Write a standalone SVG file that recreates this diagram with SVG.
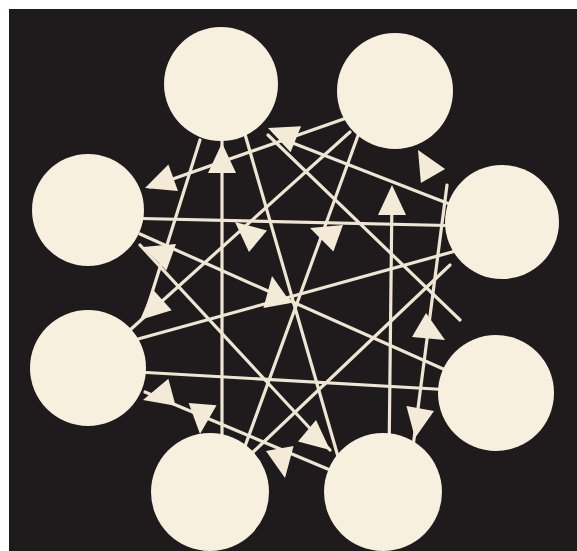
<svg xmlns="http://www.w3.org/2000/svg" xmlns:xlink="http://www.w3.org/1999/xlink" width="577" height="551" viewBox="0 0 577 551">
<style>
.bg{fill:#1f1b1c}
.node{fill:#f8f0df}
.edge{stroke:#eee5d3;stroke-width:3.2;fill:none;stroke-linecap:round}
.head{fill:#f3ead8}
</style>
<defs>
<path id="ah" d="M0,0 L-30,-14 L-30,14 Z"/>
</defs>
<rect x="0" y="0" width="577" height="551" fill="#ffffff"/>
<rect class="bg" x="9" y="9" width="568" height="542"/>
<g id="edges">
<line class="edge" x1="120" y1="218" x2="470" y2="226"/>
<line class="edge" x1="120" y1="371" x2="470" y2="391"/>
<line class="edge" x1="222" y1="120" x2="222" y2="460"/>
<line class="edge" x1="392" y1="195" x2="389" y2="460"/>
<line class="edge" x1="238" y1="110" x2="339" y2="460"/>
<line class="edge" x1="120" y1="344" x2="470" y2="247"/>
<line class="edge" x1="268" y1="135" x2="460" y2="320"/>
<line class="edge" x1="470" y1="212" x2="285" y2="140"/>
<line class="edge" x1="360" y1="130" x2="240" y2="460"/>
<line class="edge" x1="350" y1="132" x2="130" y2="330"/>
<line class="edge" x1="355" y1="115" x2="150" y2="187"/>
<line class="edge" x1="140" y1="245" x2="330" y2="450"/>
<line class="edge" x1="140" y1="234" x2="450" y2="372"/>
<line class="edge" x1="447" y1="185" x2="410" y2="470"/>
<line class="edge" x1="200" y1="140" x2="145" y2="315"/>
<line class="edge" x1="145" y1="392" x2="330" y2="470"/>
<line class="edge" x1="250" y1="455" x2="450" y2="265"/>
</g>
<g id="arrowheads" class="head">
<use xlink:href="#ah" transform="translate(268,128) rotate(202)"/>
<use xlink:href="#ah" transform="translate(222,143) rotate(-90)"/>
<use xlink:href="#ah" transform="translate(145,188) rotate(160)"/>
<use xlink:href="#ah" transform="translate(143,247) rotate(200)"/>
<use xlink:href="#ah" transform="translate(140,320) rotate(138)"/>
<use xlink:href="#ah" transform="translate(143,400) rotate(165)"/>
<use xlink:href="#ah" transform="translate(200,434) rotate(95)"/>
<use xlink:href="#ah" transform="translate(285,478) rotate(80)"/>
<use xlink:href="#ah" transform="translate(330,450) rotate(40)"/>
<use xlink:href="#ah" transform="translate(415,438) rotate(100)"/>
<use xlink:href="#ah" transform="translate(445,340) rotate(30)"/>
<use xlink:href="#ah" transform="translate(418,150) rotate(-120)"/>
<use xlink:href="#ah" transform="translate(392,185) rotate(-90)"/>
<use xlink:href="#ah" transform="translate(235,222) rotate(-140)"/>
<use xlink:href="#ah" transform="translate(310,228) rotate(200)"/>
<use xlink:href="#ah" transform="translate(272,276) rotate(-100)"/>
</g>
<g id="node-a"><circle class="node" cx="221" cy="84" r="57"/></g>
<g id="node-b"><circle class="node" cx="395" cy="91" r="58"/></g>
<g id="node-c"><circle class="node" cx="502" cy="222" r="57"/></g>
<g id="node-d"><circle class="node" cx="496" cy="393" r="58"/></g>
<g id="node-e"><circle class="node" cx="383" cy="492" r="59"/></g>
<g id="node-f"><circle class="node" cx="210" cy="492" r="59"/></g>
<g id="node-g"><circle class="node" cx="88" cy="368" r="58"/></g>
<g id="node-h"><circle class="node" cx="88" cy="210" r="56"/></g>
</svg>
